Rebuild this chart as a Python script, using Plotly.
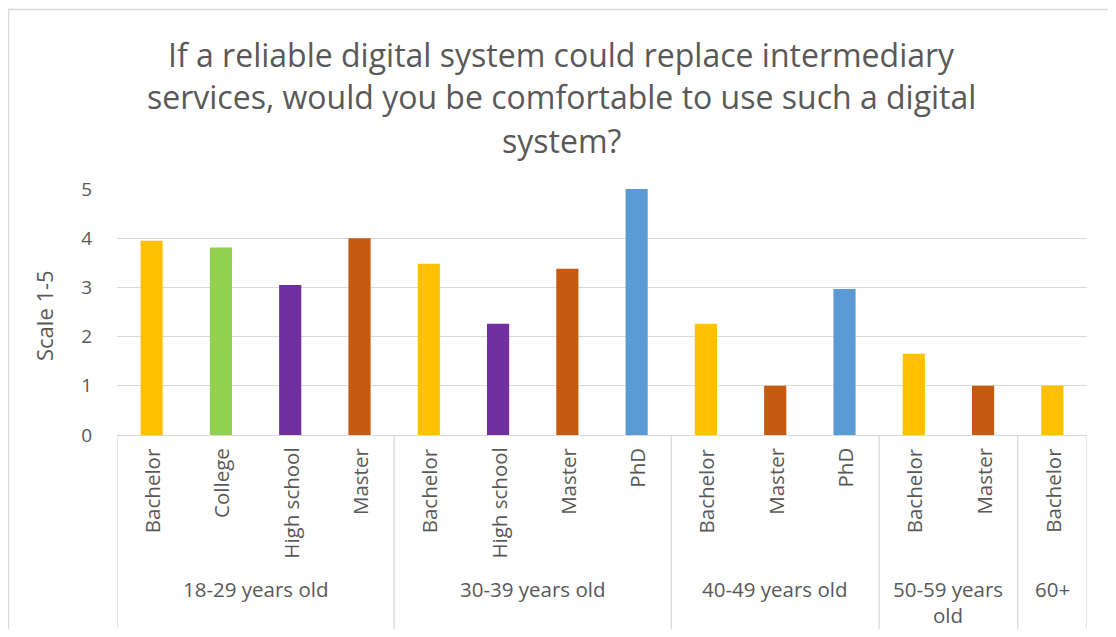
import plotly.graph_objects as go

# ---- data ----
age_groups = ["18-29 years old", "30-39 years old", "40-49 years old", "50-59 years<br>old", "60+"]
education = [
    ["Bachelor", "College", "High school", "Master"],
    ["Bachelor", "High school", "Master", "PhD"],
    ["Bachelor", "Master", "PhD"],
    ["Bachelor", "Master"],
    ["Bachelor"],
]
scores = [
    [3.95, 3.81, 3.05, 4.0],
    [3.48, 2.26, 3.38, 5.0],
    [2.26, 1.0, 2.97],
    [1.65, 1.0],
    [1.0],
]
y_ticks = [0, 1, 2, 3, 4, 5]
title_lines = [
    "If a reliable digital system could replace intermediary",
    "services, would you be comfortable to use such a digital",
    "system?",
]
y_title = "Scale 1-5"

colors = {
    "Bachelor": "#FFC000",
    "College": "#92D050",
    "High school": "#7030A0",
    "Master": "#C55A11",
    "PhD": "#5B9BD5",
}

OFF = 8  # page body margin
W, H = 1116 - 2 * OFF, 637 - 2 * OFF
# target screen coordinates of the plot area
S_L, S_R, S_T, S_B = 117, 1087, 189, 435
ML, MT = S_L - OFF, S_T - OFF
MR = W - (S_R - OFF)
MB = H - (S_B - OFF)
PW = W - ML - MR
PH = H - MT - MB
FONT = "Open Sans"
TXT = "#595959"
GRID = "#D9D9D9"


def py(p):  # screen pixel y -> paper y
    return (S_B - p) / PH


def px(p):  # screen pixel x -> paper x
    return (p - S_L) / PW


# flatten
xs, ys, labels, cols = [], [], [], []
bounds = []
i = 0
for g, eds, vals in zip(age_groups, education, scores):
    start = i
    for e, v in zip(eds, vals):
        xs.append(i)
        ys.append(v)
        labels.append(e)
        cols.append(colors[e])
        i += 1
    bounds.append((start, i - 1))
n = i

fig = go.Figure()
fig.add_trace(go.Bar(x=xs, y=ys, marker=dict(color=cols, line=dict(width=0)),
                     width=0.32, hoverinfo="x+y", showlegend=False))

annotations = []
shapes = []

# rotated category labels
for x, lab in zip(xs, labels):
    annotations.append(dict(x=x, y=py(446), xref="x", yref="paper", text=lab,
                            textangle=-90, showarrow=False, xanchor="center", yanchor="top",
                            font=dict(family=FONT, size=20.5, color=TXT)))

# group labels (each line separately) and dividers
for g, (s, e) in zip(age_groups, bounds):
    for k, line in enumerate(g.split("<br>")):
        annotations.append(dict(x=(s + e) / 2, y=py(589 + 26 * k), xref="x", yref="paper",
                                text=line, showarrow=False, xanchor="center", yanchor="middle",
                                borderpad=0,
                                font=dict(family=FONT, size=20.5, color=TXT)))
div_x = [-0.5] + [e + 0.5 for (s, e) in bounds]
for d in div_x:
    shapes.append(dict(type="line", xref="x", yref="paper", x0=d, x1=d, y0=0, y1=py(629),
                       line=dict(color=GRID, width=1.3)))

# title lines
for k, t in enumerate(title_lines):
    annotations.append(dict(x=px(561), y=py(54 + 43 * k), xref="paper", yref="paper", text=t,
                            showarrow=False, xanchor="center", yanchor="middle",
                            font=dict(family=FONT, size=32, color=TXT)))

# y-axis title
annotations.append(dict(x=px(44), y=py(316), xref="paper", yref="paper", text=y_title,
                        textangle=-90, showarrow=False, xanchor="center", yanchor="middle",
                        font=dict(family=FONT, size=22, color=TXT)))

# chart border
shapes.append(dict(type="rect", xref="paper", yref="paper", x0=px(8.5), x1=px(1113),
                   y0=py(645), y1=py(9.5), line=dict(color=GRID, width=1.5), layer="below"))

fig.update_layout(
    width=W, height=H,
    margin=dict(l=ML, r=MR, t=MT, b=MB),
    paper_bgcolor="white", plot_bgcolor="white",
    bargap=0.68,
    xaxis=dict(range=[-0.5, n - 0.5], showticklabels=False, showgrid=False, zeroline=False,
               showline=True, linecolor=GRID, linewidth=1.3, ticks="", fixedrange=True),
    yaxis=dict(range=[0, 5], tickvals=y_ticks, showgrid=True, gridcolor=GRID, gridwidth=1.3,
               zeroline=False, showline=False, ticks="outside", ticklen=20,
               tickcolor="rgba(0,0,0,0)",
               tickfont=dict(family=FONT, size=19, color=TXT), fixedrange=True),
    annotations=annotations,
    shapes=shapes,
    font=dict(family=FONT, color=TXT),
)

fig.write_html("out.html")
